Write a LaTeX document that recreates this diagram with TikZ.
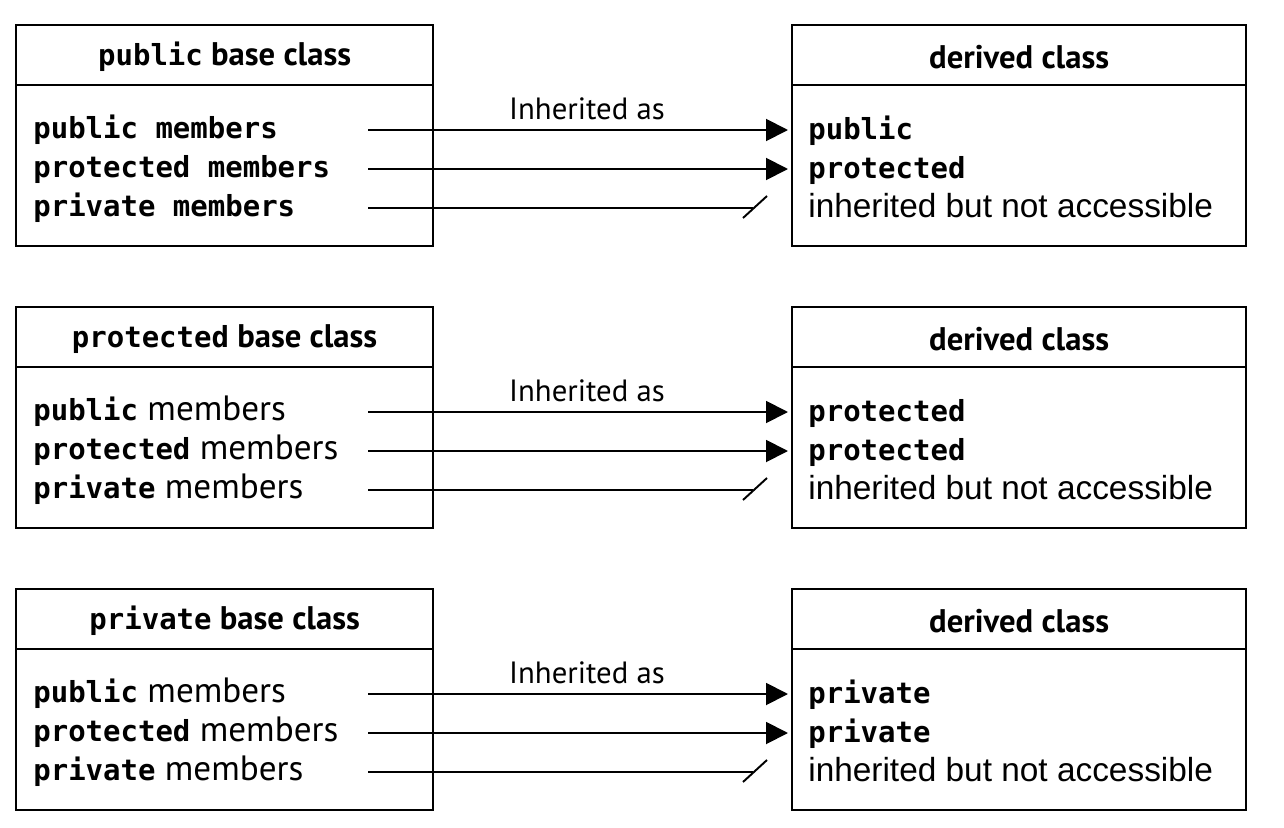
\documentclass[tikz,border=0pt]{standalone}
\usepackage{fontspec}
\setmainfont{Liberation Sans}
\newfontfamily\codefont{DejaVu Sans Mono}
\newfontfamily\headfont{PT Sans}
\usetikzlibrary{arrows.meta, calc}
\newcommand{\code}[1]{{\fontsize{16.5}{20}\codefont\bfseries #1}}

\begin{document}
\begin{tikzpicture}[x=0.2mm, y=-0.2mm,
    nodes={font=\fontsize{16.5}{20}\selectfont},
    class_box/.style={draw, line width=1.3pt, anchor=north west, inner sep=0pt, minimum height=44.2mm},
    head_text/.style={font=\fontsize{18.6}{22}\selectfont\headfont\bfseries},
    member_text/.style={anchor=base west, inner sep=0pt},
    label_text/.style={font=\fontsize{17.5}{20}\selectfont\headfont},
    inherit/.style={line width=1.1pt, -{Triangle[length=4.4mm, width=4.4mm]}, shorten >=0.6mm},
    lost/.style={line width=1.1pt}]

  \useasboundingbox (0,0) rectangle (1284,828);

  \foreach \r/\yt/\kind/\memfont/\outA/\outB in {
      1/24/public/\fontsize{16.5}{20}\codefont\bfseries/public/protected,
      2/306/protected/\fontsize{20}{22}\headfont/protected/protected,
      3/588/private/\fontsize{20}{22}\headfont/private/private}{
    % the two class boxes with their title rows
    \node[class_box, minimum width=83.4mm] (base\r) at (15,\yt) {};
    \node[class_box, minimum width=90.8mm] (der\r) at (791,\yt) {};
    \draw[line width=1.3pt] ($(base\r.north west)+(0,61)$) -- ($(base\r.north east)+(0,61)$);
    \draw[line width=1.3pt] ($(der\r.north west)+(0,61)$) -- ($(der\r.north east)+(0,61)$);
    \node[head_text] (baseh\r) at ($(base\r.north)+(0,33)$) {\code{\kind} base class};
    \node[head_text] (derh\r) at ($(der\r.north)+(0,33)$) {derived class};

    % members
    \node[member_text] (pub\r) at (33,{\yt+114}) {\code{public}{\memfont\ members}};
    \node[member_text] (prot\r) at (33,{\yt+153}) {\code{protected}{\memfont\ members}};
    \node[member_text] (priv\r) at (33,{\yt+192}) {\code{private}{\memfont\ members}};
    \node[member_text] (outa\r) at (808,{\yt+115}) {\code{\outA}};
    \node[member_text] (outb\r) at (808,{\yt+154}) {\code{\outB}};
    \node[member_text, font=\fontsize{19}{22}\selectfont] (outc\r) at (808,{\yt+193}) {inherited but not accessible};
    \node[label_text] (inh\r) at (587,{\yt+85}) {Inherited as};

    % connectors
    \coordinate (sa\r) at (368,{\yt+106});
    \coordinate (sb\r) at (368,{\yt+145});
    \coordinate (sc\r) at (368,{\yt+184});
    \draw[inherit] (sa\r) -- (der\r.west |- sa\r);
    \draw[inherit] (sb\r) -- (der\r.west |- sb\r);
    \draw[lost] (sc\r) -- ($(der\r.west |- sc\r)+(-38,0)$) coordinate (ec\r);
    \draw[lost] ($(ec\r)+(-10,10)$) -- ($(ec\r)+(14,-12)$);
  }
\end{tikzpicture}
\end{document}
